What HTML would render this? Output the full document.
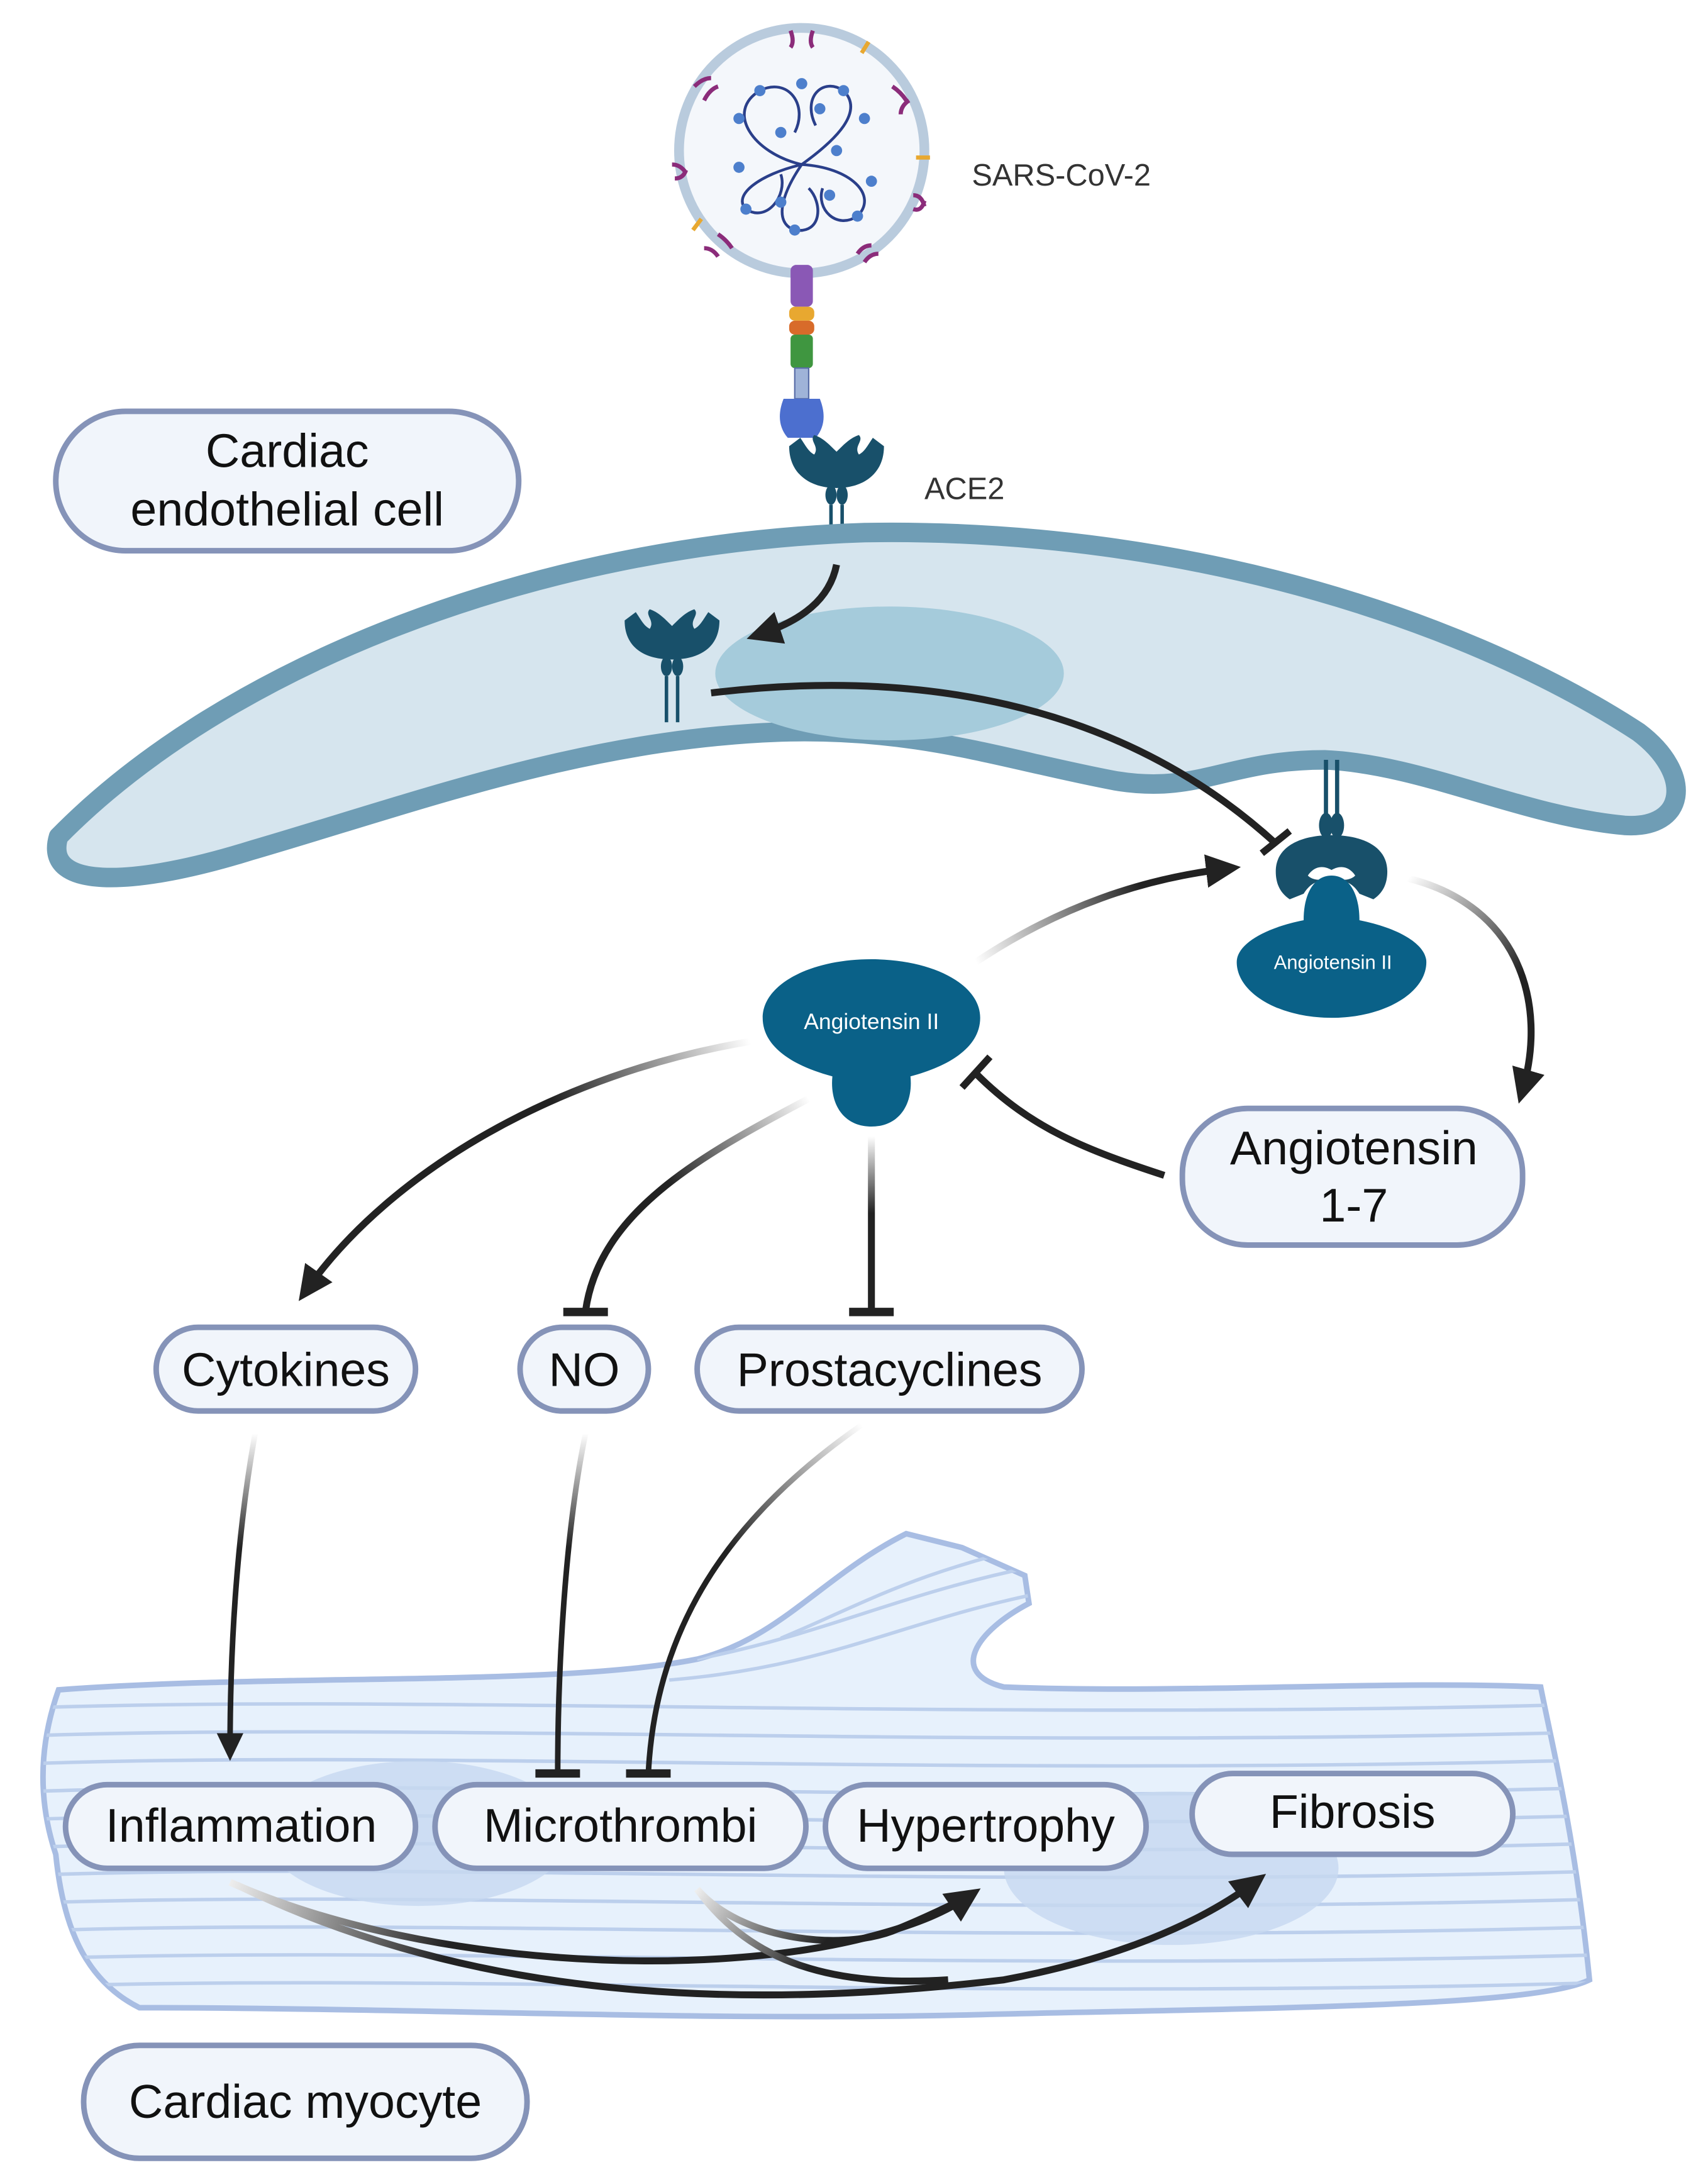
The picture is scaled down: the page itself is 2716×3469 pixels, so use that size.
<!DOCTYPE html>
<html><head><meta charset="utf-8"><style>
html,body{margin:0;padding:0;background:#fff}
svg{display:block}
text{font-family:"Liberation Sans",sans-serif}
</style></head><body>
<svg width="2716" height="3469" viewBox="0 0 1225 1565" preserveAspectRatio="none" xmlns="http://www.w3.org/2000/svg">
<defs>
<marker id="ah" markerWidth="6" markerHeight="6" refX="3" refY="3" orient="auto" markerUnits="strokeWidth"><path d="M0,0.6 L5,3 L0,5.4 z" fill="#222"/></marker>
<linearGradient id="g1" gradientUnits="userSpaceOnUse" x1="700" y1="690" x2="820" y2="640"><stop offset="0" stop-color="#fff"/><stop offset="1" stop-color="#222"/></linearGradient>
<linearGradient id="g2" gradientUnits="userSpaceOnUse" x1="1010" y1="630" x2="1090" y2="700"><stop offset="0" stop-color="#fff"/><stop offset="1" stop-color="#222"/></linearGradient>
<linearGradient id="g3" gradientUnits="userSpaceOnUse" x1="538" y1="747" x2="400" y2="800"><stop offset="0" stop-color="#fff"/><stop offset="1" stop-color="#222"/></linearGradient>
<linearGradient id="g4" gradientUnits="userSpaceOnUse" x1="580" y1="788" x2="480" y2="850"><stop offset="0" stop-color="#fff"/><stop offset="1" stop-color="#222"/></linearGradient>
<linearGradient id="g5" gradientUnits="userSpaceOnUse" x1="0" y1="815" x2="0" y2="870"><stop offset="0" stop-color="#fff"/><stop offset="1" stop-color="#222"/></linearGradient>
<linearGradient id="g6" gradientUnits="userSpaceOnUse" x1="0" y1="1028" x2="0" y2="1110"><stop offset="0" stop-color="#fff"/><stop offset="1" stop-color="#222"/></linearGradient>
<linearGradient id="g7" gradientUnits="userSpaceOnUse" x1="618" y1="1022" x2="520" y2="1110"><stop offset="0" stop-color="#fff"/><stop offset="1" stop-color="#222"/></linearGradient>
<linearGradient id="g8" gradientUnits="userSpaceOnUse" x1="165" y1="1350" x2="320" y2="1400"><stop offset="0" stop-color="#eee"/><stop offset="1" stop-color="#222"/></linearGradient>
<linearGradient id="g9" gradientUnits="userSpaceOnUse" x1="500" y1="1355" x2="580" y2="1410"><stop offset="0" stop-color="#eee"/><stop offset="1" stop-color="#222"/></linearGradient>
<linearGradient id="g10" gradientUnits="userSpaceOnUse" x1="600" y1="790" x2="700" y2="730"><stop offset="0" stop-color="#fff"/><stop offset="1" stop-color="#222"/></linearGradient>
<clipPath id="myo"><path d="M42,1212 C200,1200 400,1210 500,1190 C560,1175 590,1130 650,1100 L690,1110 L735,1130 L738,1150 C700,1170 680,1200 720,1210 C850,1215 1000,1205 1105,1210 C1115,1260 1130,1320 1140,1420 C1100,1440 900,1440 700,1445 C500,1450 300,1440 100,1440 C60,1420 45,1380 40,1330 C30,1300 25,1260 42,1212 z"/></clipPath>
</defs>

<!-- Virus -->
<circle cx="575" cy="108" r="88" fill="#f4f7fb" stroke="#b9cbdd" stroke-width="7"/>
<g stroke="#2a3f8a" stroke-width="2" fill="none">
<path d="M575,118 C540,110 520,80 545,65 C565,55 580,75 570,95 M575,118 C600,100 620,80 605,65 C590,55 575,70 585,90 M575,118 C610,120 630,140 615,155 C600,165 585,150 590,135 M575,118 C560,140 555,160 570,165 C590,168 590,145 580,135 M575,118 C545,125 525,140 535,150 C550,160 565,140 560,125"/>
</g>
<g fill="#4d7fcc">
<circle cx="545" cy="65" r="4"/><circle cx="530" cy="85" r="4"/><circle cx="560" cy="95" r="4"/><circle cx="605" cy="65" r="4"/><circle cx="620" cy="85" r="4"/><circle cx="588" cy="78" r="4"/><circle cx="615" cy="155" r="4"/><circle cx="595" cy="140" r="4"/><circle cx="625" cy="130" r="4"/><circle cx="570" cy="165" r="4"/><circle cx="560" cy="145" r="4"/><circle cx="535" cy="150" r="4"/><circle cx="530" cy="120" r="4"/><circle cx="575" cy="60" r="4"/><circle cx="600" cy="108" r="4"/>
</g>
<g stroke="#8b2c7a" stroke-width="3" fill="none">
<path d="M567,22 q3,8 0,12 M583,22 q-3,8 0,12"/>
<path d="M640,62 q6,4 10,10 M652,72 q-6,4 -6,10"/>
<path d="M655,140 q6,0 8,8 M655,150 q6,2 8,-6"/>
<path d="M615,182 q4,-6 10,-6 M620,188 q4,-6 10,-6"/>
<path d="M515,168 q6,4 10,10 M505,178 q6,0 10,6"/>
<path d="M482,118 q6,0 10,6 M484,128 q6,0 8,-6"/>
<path d="M498,62 q6,-6 12,-6 M505,72 q4,-8 10,-10"/>
</g>
<g stroke="#e8a830" stroke-width="3"><path d="M618,38 l5,-8"/><path d="M657,113 h10"/><path d="M497,165 l6,-8"/></g>
<!-- Spike -->
<rect x="567" y="190" width="16" height="30" rx="4" fill="#8a58b5"/>
<rect x="566" y="220" width="18" height="10" rx="4" fill="#e8a830"/>
<rect x="566" y="230" width="18" height="10" rx="4" fill="#d86b2a"/>
<rect x="567" y="240" width="16" height="24" rx="3" fill="#3f9640"/>
<rect x="570" y="264" width="10" height="22" fill="#9fb3d8" stroke="#5a6ea8" stroke-width="1"/>
<path d="M562,286 h26 c4,10 4,20 -3,28 h-20 c-7,-8 -7,-18 -3,-28z" fill="#4c6fcf"/>
<text x="697" y="133" font-size="22" fill="#333">SARS-CoV-2</text>

<!-- endothelial label -->
<rect x="40" y="295" width="332" height="100" rx="50" fill="#f1f5fb" stroke="#8593b8" stroke-width="4"/>
<text x="206" y="335" font-size="34" text-anchor="middle" fill="#111">Cardiac</text>
<text x="206" y="377" font-size="34" text-anchor="middle" fill="#111">endothelial cell</text>

<!-- ACE2 top -->
<g fill="#18506a">
<path d="M566,320 c0,20 15,30 34,30 c19,0 34,-10 34,-30 l-8,-6 c-4,6 -6,10 -10,12 c-4,-6 4,-10 0,-14 c-6,2 -10,6 -16,12 c-6,-6 -10,-10 -16,-12 c-4,4 4,8 0,14 c-4,-2 -6,-6 -10,-12z"/>
<ellipse cx="596" cy="355" rx="4" ry="7"/><ellipse cx="604" cy="355" rx="4" ry="7"/>
</g>
<path d="M596,362 V392 M604,362 V392" stroke="#18506a" stroke-width="2.5"/>
<text x="663" y="358" font-size="22" fill="#333">ACE2</text>

<!-- Endothelial cell -->
<path d="M42,600 C160,480 380,390 620,382 C860,378 1060,450 1175,525 C1215,555 1210,595 1165,592 C1090,585 1020,548 950,545 C880,545 860,570 800,560 C720,545 660,522 560,525 C420,530 300,575 180,610 C100,635 30,640 42,600 z" fill="#d6e5ee" stroke="#6f9db5" stroke-width="14" stroke-linejoin="round"/>
<ellipse cx="638" cy="483" rx="125" ry="48" fill="#a5cbdb"/>

<!-- internal ACE2 -->
<g fill="#18506a">
<path d="M448,445 c0,20 15,28 34,28 c19,0 34,-8 34,-28 l-8,-6 c-4,6 -6,10 -10,12 c-4,-6 4,-10 0,-14 c-6,2 -10,6 -16,12 c-6,-6 -10,-10 -16,-12 c-4,4 4,8 0,14 c-4,-2 -6,-6 -10,-12z"/>
<ellipse cx="478" cy="478" rx="4" ry="7"/><ellipse cx="486" cy="478" rx="4" ry="7"/>
</g>
<path d="M478,485 V518 M486,485 V518" stroke="#18506a" stroke-width="2.5"/>
<path d="M600,405 C595,430 575,445 545,455" stroke="#222" stroke-width="5" fill="none" marker-end="url(#ah)"/>
<path d="M510,497 C650,480 800,500 915,605" stroke="#222" stroke-width="5" fill="none"/>
<path d="M905,612 L925,596" stroke="#222" stroke-width="5"/>

<!-- lower ACE2 + AngII -->
<path d="M951,545 V585 M959,545 V585" stroke="#18506a" stroke-width="3"/>
<g fill="#18506a">
<ellipse cx="951" cy="592" rx="5" ry="9"/><ellipse cx="959" cy="592" rx="5" ry="9"/>
<path d="M915,625 c0,-18 18,-26 40,-26 c22,0 40,8 40,26 c0,10 -4,16 -10,20 l-10,-4 c-4,-6 -8,-10 -20,-10 c-12,0 -16,4 -20,10 l-10,4 c-6,-4 -10,-10 -10,-20z"/>
</g>
<path d="M938,628 c4,-6 10,-8 17,-4 c7,-4 13,-2 17,4 c-3,3 -8,4 -17,2 c-9,2 -14,1 -17,-2z" fill="#fff"/>
<path d="M935,660 c0,-20 8,-32 20,-32 c12,0 20,12 20,32 c30,6 48,18 48,30 c0,22 -30,40 -68,40 c-38,0 -68,-18 -68,-40 c0,-12 18,-24 48,-30z" fill="#0a6188"/>
<text x="956" y="695" font-size="14" fill="#fff" text-anchor="middle">Angiotensin II</text>

<path d="M700,690 C760,650 820,630 880,623" stroke="url(#g1)" stroke-width="5" fill="none" marker-end="url(#ah)"/>
<path d="M1010,630 C1090,650 1110,720 1092,782" stroke="url(#g2)" stroke-width="5" fill="none" marker-end="url(#ah)"/>

<!-- central AngII -->
<path d="M625,688 c44,0 78,18 78,42 c0,20 -20,34 -50,42 c2,20 -8,36 -28,36 c-20,0 -30,-16 -28,-36 c-30,-8 -50,-22 -50,-42 c0,-24 34,-42 78,-42z" fill="#0a6188"/>
<text x="625" y="738" font-size="16" fill="#fff" text-anchor="middle">Angiotensin II</text>

<!-- Ang 1-7 -->
<rect x="848" y="795" width="244" height="98" rx="47" fill="#f1f5fb" stroke="#8593b8" stroke-width="4"/>
<text x="971" y="835" font-size="34" text-anchor="middle" fill="#111">Angiotensin</text>
<text x="971" y="876" font-size="34" text-anchor="middle" fill="#111">1-7</text>
<path d="M835,843 C780,825 740,810 700,770" stroke="#222" stroke-width="5" fill="none"/>
<path d="M690,780 L710,758" stroke="#222" stroke-width="5"/>

<!-- down from AngII -->
<path d="M538,747 C400,770 280,840 220,925" stroke="url(#g3)" stroke-width="5" fill="none" marker-end="url(#ah)"/>
<path d="M580,788 C500,830 430,870 420,940" stroke="url(#g4)" stroke-width="5" fill="none"/>
<path d="M404,941 H436" stroke="#222" stroke-width="6"/>
<path d="M625,815 V940" stroke="url(#g5)" stroke-width="5"/>
<path d="M609,941 H641" stroke="#222" stroke-width="6"/>

<!-- mid boxes -->
<g fill="#f1f5fb" stroke="#8593b8" stroke-width="4">
<rect x="112" y="952" width="186" height="60" rx="30"/>
<rect x="373" y="952" width="92" height="60" rx="30"/>
<rect x="500" y="952" width="276" height="60" rx="30"/>
</g>
<g font-size="34" text-anchor="middle" fill="#111">
<text x="205" y="994">Cytokines</text>
<text x="419" y="994">NO</text>
<text x="638" y="994">Prostacyclines</text>
</g>

<!-- myocyte -->
<path d="M42,1212 C200,1200 400,1210 500,1190 C560,1175 590,1130 650,1100 L690,1110 L735,1130 L738,1150 C700,1170 680,1200 720,1210 C850,1215 1000,1205 1105,1210 C1115,1260 1130,1320 1140,1420 C1100,1440 900,1440 700,1445 C500,1450 300,1440 100,1440 C60,1420 45,1380 40,1330 C30,1300 25,1260 42,1212 z" fill="#e7f1fc" stroke="#a8bde3" stroke-width="4"/>
<g clip-path="url(#myo)" stroke="#bccfec" stroke-width="2.5" fill="none">
<path d="M20,1225 C300,1215 700,1235 1150,1222"/><path d="M20,1245 C300,1235 700,1255 1150,1242"/><path d="M20,1265 C300,1255 700,1275 1150,1262"/><path d="M20,1285 C300,1275 700,1295 1150,1282"/><path d="M20,1305 C300,1295 700,1315 1150,1302"/><path d="M20,1325 C300,1315 700,1335 1150,1322"/><path d="M20,1345 C300,1335 700,1355 1150,1342"/><path d="M20,1365 C300,1355 700,1375 1150,1362"/><path d="M20,1385 C300,1375 700,1395 1150,1382"/><path d="M20,1405 C300,1395 700,1415 1150,1402"/><path d="M20,1425 C300,1415 700,1435 1150,1422"/>
<path d="M480,1205 C600,1195 650,1160 760,1140"/><path d="M500,1190 C600,1170 650,1140 760,1120"/><path d="M560,1175 C620,1150 660,1125 760,1105"/>
</g>
<ellipse cx="300" cy="1315" rx="110" ry="52" fill="#c7d8f0" opacity="0.8"/>
<ellipse cx="840" cy="1340" rx="120" ry="55" fill="#c7d8f0" opacity="0.8"/>

<!-- arrows into myocyte -->
<path d="M183,1028 C170,1100 165,1180 165,1255" stroke="url(#g6)" stroke-width="4" fill="none" marker-end="url(#ah)"/>
<path d="M420,1028 C405,1100 400,1200 400,1272" stroke="url(#g6)" stroke-width="4" fill="none"/>
<path d="M384,1272 H416" stroke="#222" stroke-width="6"/>
<path d="M618,1022 C520,1090 470,1170 465,1272" stroke="url(#g7)" stroke-width="4" fill="none"/>
<path d="M449,1272 H481" stroke="#222" stroke-width="6"/>

<!-- bottom boxes -->
<g fill="#f1f5fb" stroke="#8593b8" stroke-width="4">
<rect x="47" y="1280" width="251" height="60" rx="30"/>
<rect x="312" y="1280" width="266" height="60" rx="30"/>
<rect x="592" y="1280" width="230" height="60" rx="30"/>
<rect x="855" y="1272" width="230" height="58" rx="29"/>
</g>
<g font-size="34" text-anchor="middle" fill="#111">
<text x="173" y="1321">Inflammation</text>
<text x="445" y="1321">Microthrombi</text>
<text x="707" y="1321">Hypertrophy</text>
<text x="970" y="1311">Fibrosis</text>
</g>

<path d="M165,1350 C300,1410 500,1420 620,1390 C660,1380 680,1370 695,1360" stroke="url(#g8)" stroke-width="5" fill="none" marker-end="url(#ah)"/>
<path d="M170,1352 C350,1440 550,1440 720,1420 C800,1405 860,1380 900,1350" stroke="url(#g8)" stroke-width="5" fill="none" marker-end="url(#ah)"/>
<path d="M500,1355 C530,1390 600,1400 640,1385 C665,1375 685,1365 695,1360" stroke="url(#g9)" stroke-width="5" fill="none"/>
<path d="M500,1355 C540,1410 600,1425 680,1420" stroke="url(#g9)" stroke-width="5" fill="none"/>

<!-- myocyte label -->
<rect x="60" y="1467" width="318" height="81" rx="40" fill="#f1f5fb" stroke="#8593b8" stroke-width="4"/>
<text x="219" y="1519" font-size="34" text-anchor="middle" fill="#111">Cardiac myocyte</text>
</svg>
</body></html>
